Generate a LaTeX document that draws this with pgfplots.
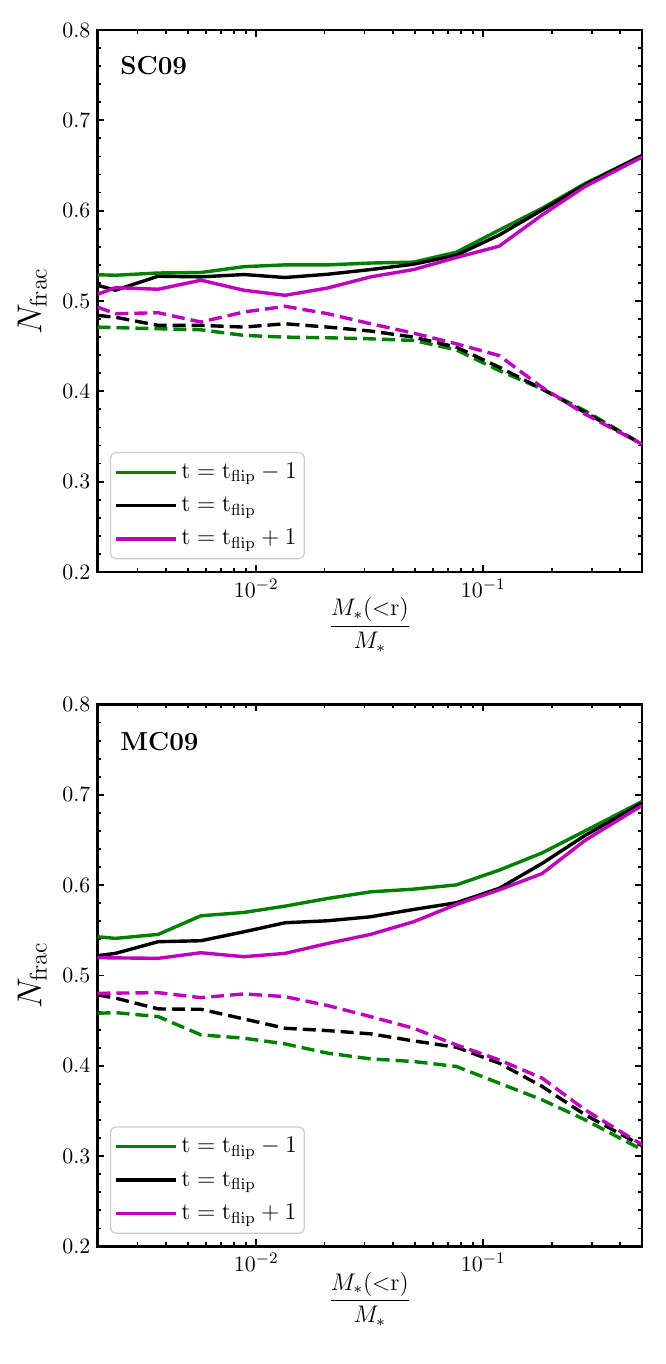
\documentclass[border=0pt]{standalone}
\usepackage{pgfplots}
\pgfplotsset{compat=1.18}
\definecolor{mplgreen}{rgb}{0,0.5,0}
\definecolor{mplmag}{rgb}{0.75,0,0.75}
\pgfplotsset{
  every axis/.append style={
    yticklabel style={/pgf/number format/.cd, fixed, fixed zerofill, precision=1},
    tick label style={font=\fontsize{11}{13}\selectfont},
    major tick length=3.5pt, minor tick length=2pt,
    every tick/.style={black, line width=0.9pt},
    axis line style={line width=1.45pt},
  },
  every axis plot/.append style={line width=1.7pt, line join=round, mark=none},
  every axis x label/.style={at={(axis description cs:0.5,0)}, anchor=base, yshift=-30pt, inner sep=0pt, font=\fontsize{11.7}{14}\selectfont},
  every axis y label/.style={at={(axis description cs:-0.147,0.5)}, rotate=90, anchor=north, inner sep=0pt, font=\fontsize{17.5}{20}\selectfont},
  legend image code/.code={\draw[#1, line width=1.7pt] (0pt,0pt) -- (25.5pt,0pt); \path (0pt,0pt) -- (30pt,0pt);},
  dsh/.style={dash pattern=on 6.5pt off 3pt, forget plot},
}
\newcommand{\lentry}[1]{\rule[-3.33pt]{0pt}{12.67pt}#1}
\begin{document}
\begin{tikzpicture}
\useasboundingbox (0,0) rectangle (332.5pt,682pt);
% ---------------- top panel: SC09 ----------------
\begin{axis}[at={(48.75pt,396pt)}, anchor=south west,
    scale only axis, width=272.25pt, height=271pt,
    xmode=log, xmin=0.002, xmax=0.5,
    ymin=0.2, ymax=0.8, ytick={0.2,0.3,0.4,0.5,0.6,0.7,0.8}, minor y tick num=4,
    tick align=inside, xtick pos=both, ytick pos=both,
    xlabel={$\displaystyle\frac{M_*(\mathord{<}\mathrm{r})}{M_*}$},
    ylabel={$N_{\mathrm{frac}}$},
    legend cell align=left,
    legend style={at={(0,0)}, anchor=south west, xshift=6.25pt, yshift=6.35pt,
      draw=black!20, line width=0.6pt, rounded corners=2.5pt,
      fill=white, fill opacity=0.8, text opacity=1,
      font=\fontsize{12}{14}\selectfont,
      inner xsep=1.65pt, inner ysep=1.5pt,
      nodes={inner sep=2pt, text depth={}}}]
\addplot[mplgreen] coordinates {(0.002,0.529) (0.0024,0.5285) (0.0037,0.531) (0.00571,0.5315) (0.00883,0.538) (0.0134,0.540) (0.02065,0.540) (0.0319,0.542) (0.0493,0.543) (0.0761,0.554) (0.1175,0.5785) (0.1815,0.6026) (0.2805,0.630) (0.5,0.661)};
\addlegendentry{\lentry{$\mathrm{t}=\mathrm{t}_{\mathrm{flip}}-1$\hspace{3pt}}}
\addplot[black] coordinates {(0.002,0.5174) (0.0024,0.5119) (0.0037,0.5274) (0.00571,0.5267) (0.00883,0.5293) (0.0134,0.526) (0.02065,0.5296) (0.0319,0.5348) (0.0493,0.5407) (0.0761,0.5507) (0.1175,0.573) (0.1815,0.6007) (0.2805,0.6285) (0.5,0.661)};
\addlegendentry{\lentry{$\mathrm{t}=\mathrm{t}_{\mathrm{flip}}$}}
\addplot[mplmag] coordinates {(0.002,0.5074) (0.0024,0.5148) (0.0037,0.513) (0.00571,0.523) (0.00883,0.5119) (0.0134,0.5063) (0.02065,0.5144) (0.0319,0.5267) (0.0493,0.5348) (0.0761,0.5481) (0.1175,0.5607) (0.1815,0.5952) (0.2805,0.6267) (0.5,0.6593)};
\addlegendentry{\lentry{$\mathrm{t}=\mathrm{t}_{\mathrm{flip}}+1$}}
\addplot[mplgreen, dsh] coordinates {(0.002,0.4711) (0.0024,0.4705) (0.0037,0.4693) (0.00571,0.4681) (0.00883,0.4619) (0.0134,0.46) (0.02065,0.4593) (0.0319,0.4581) (0.0493,0.4563) (0.0761,0.4459) (0.1175,0.423) (0.1815,0.4026) (0.2805,0.3785) (0.5,0.3415)};
\addplot[black, dsh] coordinates {(0.002,0.4841) (0.0024,0.482) (0.0037,0.473) (0.00571,0.473) (0.00883,0.4711) (0.0134,0.4748) (0.02065,0.4711) (0.0319,0.4667) (0.0493,0.46) (0.0761,0.4489) (0.1175,0.4267) (0.1815,0.4026) (0.2805,0.3767) (0.5,0.3415)};
\addplot[mplmag, dsh] coordinates {(0.002,0.4933) (0.0024,0.4859) (0.0037,0.487) (0.00571,0.4767) (0.00883,0.4878) (0.0134,0.4941) (0.02065,0.4859) (0.0319,0.4748) (0.0493,0.4644) (0.0761,0.4526) (0.1175,0.4396) (0.1815,0.4044) (0.2805,0.3748) (0.5,0.3415)};
\node[anchor=base west, inner sep=0pt, xshift=11.25pt, yshift=-22.5pt, font=\fontsize{13}{15}\selectfont\bfseries] at (rel axis cs:0,1) {SC09};
\end{axis}
% ---------------- bottom panel: MC09 ----------------
\begin{axis}[at={(48.75pt,58.75pt)}, anchor=south west,
    scale only axis, width=272.25pt, height=271pt,
    xmode=log, xmin=0.002, xmax=0.5,
    ymin=0.2, ymax=0.8, ytick={0.2,0.3,0.4,0.5,0.6,0.7,0.8}, minor y tick num=4,
    tick align=inside, xtick pos=both, ytick pos=both,
    xlabel={$\displaystyle\frac{M_*(\mathord{<}\mathrm{r})}{M_*}$},
    ylabel={$N_{\mathrm{frac}}$},
    legend cell align=left,
    legend style={at={(0,0)}, anchor=south west, xshift=6.25pt, yshift=6.35pt,
      draw=black!20, line width=0.6pt, rounded corners=2.5pt,
      fill=white, fill opacity=0.8, text opacity=1,
      font=\fontsize{12}{14}\selectfont,
      inner xsep=1.65pt, inner ysep=1.5pt,
      nodes={inner sep=2pt, text depth={}}}]
\addplot[mplgreen] coordinates {(0.002,0.5429) (0.0024,0.5411) (0.0037,0.5455) (0.00571,0.5661) (0.00883,0.5698) (0.0134,0.5768) (0.02065,0.5853) (0.0319,0.5926) (0.0493,0.5956) (0.0761,0.6003) (0.1175,0.6166) (0.1815,0.6357) (0.2805,0.660) (0.5,0.6926)};
\addlegendentry{\lentry{$\mathrm{t}=\mathrm{t}_{\mathrm{flip}}-1$\hspace{3pt}}}
\addplot[black] coordinates {(0.002,0.5219) (0.0024,0.5245) (0.0037,0.5374) (0.00571,0.5385) (0.00883,0.5484) (0.0134,0.5584) (0.02065,0.5606) (0.0319,0.565) (0.0493,0.5731) (0.0761,0.5805) (0.1175,0.5965) (0.1815,0.624) (0.2805,0.655) (0.5,0.6908)};
\addlegendentry{\lentry{$\mathrm{t}=\mathrm{t}_{\mathrm{flip}}$}}
\addplot[mplmag] coordinates {(0.002,0.5197) (0.0024,0.5195) (0.0037,0.519) (0.00571,0.5252) (0.00883,0.5208) (0.0134,0.5245) (0.02065,0.5355) (0.0319,0.5455) (0.0493,0.5595) (0.0761,0.5786) (0.1175,0.5948) (0.1815,0.6128) (0.2805,0.6495) (0.5,0.6882)};
\addlegendentry{\lentry{$\mathrm{t}=\mathrm{t}_{\mathrm{flip}}+1$}}
\addplot[mplgreen, dsh] coordinates {(0.002,0.4582) (0.0024,0.4589) (0.0037,0.4545) (0.00571,0.4343) (0.00883,0.4306) (0.0134,0.4243) (0.02065,0.414) (0.0319,0.4077) (0.0493,0.4048) (0.0761,0.3993) (0.1175,0.3808) (0.1815,0.3624) (0.2805,0.3403) (0.5,0.3072)};
\addplot[black, dsh] coordinates {(0.002,0.4785) (0.0024,0.475) (0.0037,0.463) (0.00571,0.4626) (0.00883,0.4519) (0.0134,0.4416) (0.02065,0.439) (0.0319,0.4354) (0.0493,0.4276) (0.0761,0.4206) (0.1175,0.403) (0.1815,0.3772) (0.2805,0.3459) (0.5,0.3116)};
\addplot[mplmag, dsh] coordinates {(0.002,0.4803) (0.0024,0.4805) (0.0037,0.481) (0.00571,0.4755) (0.00883,0.4796) (0.0134,0.4766) (0.02065,0.4667) (0.0319,0.4545) (0.0493,0.4416) (0.0761,0.4232) (0.1175,0.4066) (0.1815,0.3864) (0.2805,0.3514) (0.5,0.3127)};
\node[anchor=base west, inner sep=0pt, xshift=11.25pt, yshift=-23pt, font=\fontsize{13}{15}\selectfont\bfseries] at (rel axis cs:0,1) {MC09};
\end{axis}
\end{tikzpicture}
\end{document}
